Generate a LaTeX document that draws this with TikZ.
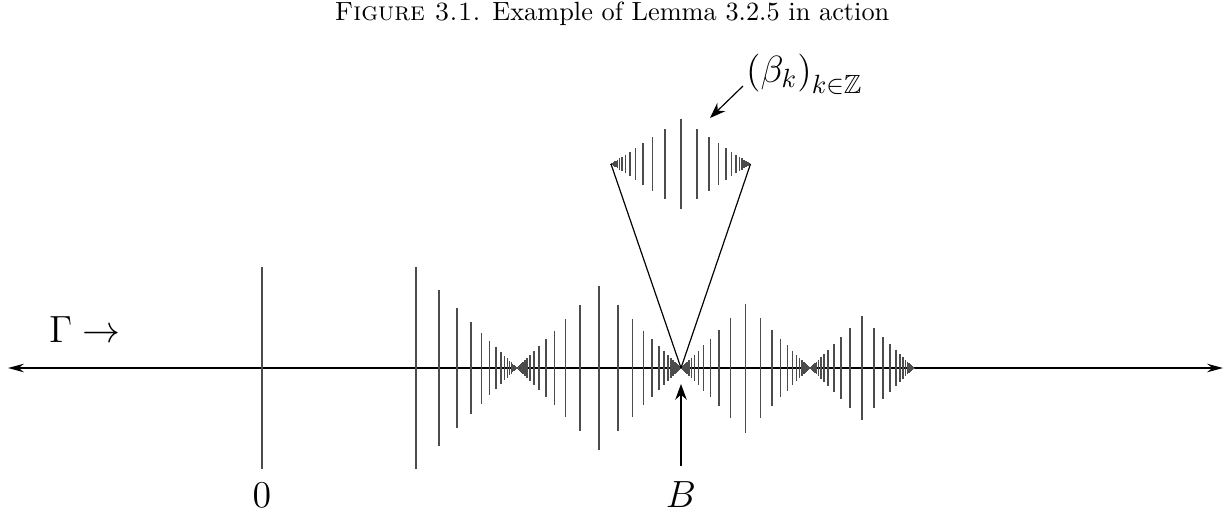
\documentclass[tikz,border=0pt]{standalone}
\usepackage{amsmath}
\usepackage{amssymb}
\usetikzlibrary{arrows.meta,positioning}
\tikzset{
  marca/.style={draw=black!70, line width=0.6pt},
  eixo/.style={{Stealth[length=6pt,width=3.2pt]}-{Stealth[length=6pt,width=3.2pt]}, line width=0.85pt, black},
  seta/.style={-{Stealth[length=6pt,width=4.4pt]}, line width=0.45pt, black},
  ligacao/.style={line width=0.45pt, black},
  rotulo/.style={font=\Large, inner sep=1pt},
}

\begin{document}
\begin{tikzpicture}[x=0.38pt, y=-0.38pt]
  \useasboundingbox (0,0) rectangle (1225,512);

  % --- Eixo principal ----------------------------------------------------------
  \coordinate (eixoE) at (8,368);
  \coordinate (eixoD) at (1223,368);
  \coordinate (B) at (681,368);
  \draw[eixo] (eixoE) -- (eixoD);

  % marca no zero
  \draw[marca] (262,267) -- (262,469);

  % meia-ampulheta inicial, acumulando em 517
  \foreach \j in {0,...,24}{
    \pgfmathsetmacro{\dist}{101*0.77^\j}
    \draw[marca] (517-\dist, 368-\dist) -- ++(0, 2*\dist);
  }

  % losangos entre os pontos de acumulacao
  \foreach \a/\b/\L in {517/681/82, 681/810/64.5, 810/914/52}{
    \foreach \j in {0,...,24}{
      \pgfmathsetmacro{\dist}{\L*0.77^\j}
      \draw[marca] (\a+\dist, 368-\dist) -- ++(0, 2*\dist);
      \draw[marca] (\b-\dist, 368-\dist) -- ++(0, 2*\dist);
    }
  }

  % --- Ampliacao da sequencia (beta_k) ----------------------------------------
  \coordinate (ampE) at (611,164);
  \coordinate (ampD) at (750.5,164);
  \foreach \j in {0,...,24}{
    \pgfmathsetmacro{\dist}{69.75*0.77^\j}
    \draw[marca] (611+\dist, 164-0.65*\dist) -- ++(0, 1.3*\dist);
    \draw[marca] (750.5-\dist, 164-0.65*\dist) -- ++(0, 1.3*\dist);
  }
  \draw[ligacao] (B) -- (ampE);
  \draw[ligacao] (B) -- (ampD);

  % --- Rotulos -----------------------------------------------------------------
  \node (legenda) at (612,14) {\textsc{Figure 3.1.} Example of Lemma 3.2.5 in action};
  \node[rotulo] (gama) at (85,330) {$\Gamma\rightarrow$};
  \node[rotulo] (zero) at (262,495) {$0$};
  \node[rotulo] (rotB) at (681,495) {$B$};
  \node[rotulo, anchor=west] (beta) at (743,74) {$\left(\beta_k\right)_{k\in\mathbb{Z}}$};

  % --- Setas ---------------------------------------------------------------------
  \coordinate (baseB) at (681,466);
  \coordinate (pontaB) at (681,384);
  \draw[seta] (baseB) -- (pontaB);
  \coordinate (betaini) at (743,86);
  \coordinate (betafim) at (710,118);
  \draw[seta] (betaini) -- (betafim);

\end{tikzpicture}
\end{document}
